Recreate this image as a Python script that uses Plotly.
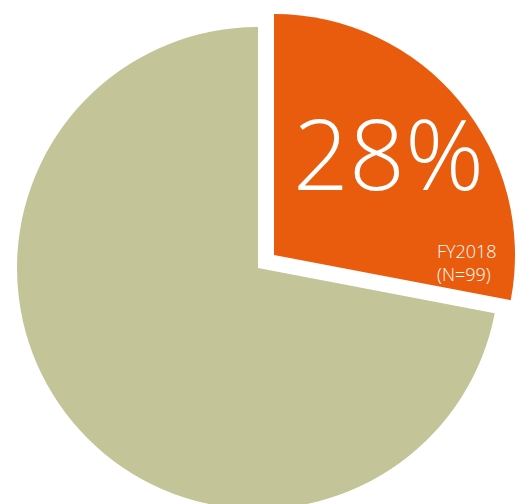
import plotly.graph_objects as go

labels = ["FY2018", "Other"]
values = [28, 72]
colors = ["#E95C0D", "#C3C497"]
big_label = "28%"
sub_label = "FY2018<br>(N=99)"

W, H = 525, 512

def dom(cx, cy, r):
    return dict(x=[(cx - r) / W, (cx + r) / W], y=[1 - (cy + r) / H, 1 - (cy - r) / H])

fig = go.Figure()
# base slice (khaki)
fig.add_trace(go.Pie(
    labels=labels, values=values, sort=False, direction="clockwise", rotation=0,
    marker=dict(colors=["rgba(0,0,0,0)", colors[1]], line=dict(width=0)),
    textinfo="none", hoverinfo="skip", showlegend=False,
    domain=dom(258, 268, 241),
))
# pulled slice (orange)
fig.add_trace(go.Pie(
    labels=labels, values=values, sort=False, direction="clockwise", rotation=0,
    marker=dict(colors=[colors[0], "rgba(0,0,0,0)"], line=dict(width=0)),
    textinfo="none", hoverinfo="skip", showlegend=False,
    domain=dom(274, 255, 241),
))

fig.add_annotation(x=388 / W, y=1 - 152 / H, xref="paper", yref="paper",
                   xanchor="center", yanchor="middle",
                   text=big_label, showarrow=False,
                   font=dict(family="Open Sans", size=98, color="white", weight=300))
fig.add_annotation(x=435 / W, y=1 - 262 / H, xref="paper", yref="paper",
                   xanchor="left", yanchor="middle",
                   text=sub_label, showarrow=False, align="left",
                   font=dict(family="Open Sans", size=18, color="white", weight=300))

fig.update_layout(width=W, height=H, margin=dict(l=0, r=0, t=0, b=0),
                  paper_bgcolor="white", plot_bgcolor="white")
fig.write_html("out.html")
